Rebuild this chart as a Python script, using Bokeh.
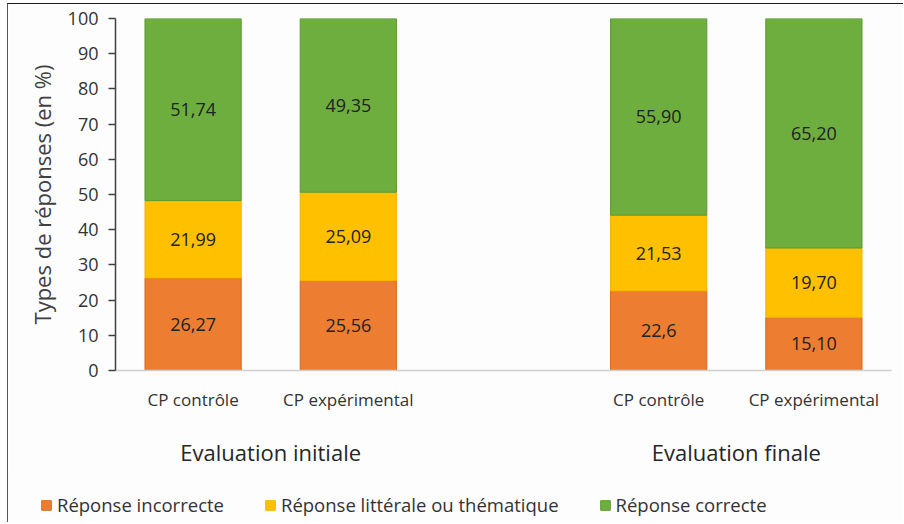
from bokeh.plotting import figure
from bokeh.layouts import column
from bokeh.models import FactorRange, ColumnDataSource, Range1d, Legend, LegendItem, CategoricalAxis
from bokeh.core.properties import value
from bokeh.embed import file_html
from bokeh.resources import INLINE
import numpy as np

groups = ["Evaluation initiale", "Evaluation finale"]
subgroups = ["CP contrôle", "CP expérimental"]
series = ["Réponse incorrecte", "Réponse littérale ou thématique", "Réponse correcte"]

incorrecte = [26.27, 25.56, 22.6, 15.10]
litterale = [21.99, 25.09, 21.53, 19.70]
correcte = [51.74, 49.35, 55.90, 65.20]

lab_incorrecte = ["26,27", "25,56", "22,6", "15,10"]
lab_litterale = ["21,99", "25,09", "21,53", "19,70"]
lab_correcte = ["51,74", "49,35", "55,90", "65,20"]

y_ticks = [0, 10, 20, 30, 40, 50, 60, 70, 80, 90, 100]

colors = ["#ED7D31", "#FFC000", "#6DAE3F"]
edge_colors = ["#D8691F", "#F0B400", "#5A9A30"]

FONT = "Open Sans"
BG = "#fdfdfd"

factors = [(g, s) for g in groups for s in subgroups]
keys = ["incorrecte", "litterale", "correcte"]
source = ColumnDataSource(dict(x=factors, incorrecte=incorrecte,
                               litterale=litterale, correcte=correcte))

x_range = FactorRange(*factors, factor_padding=0.0, group_padding=1.0, range_padding=0.0)

p = figure(width=895, height=466, x_range=x_range, y_range=Range1d(0, 100),
           output_backend="svg", toolbar_location=None,
           min_border_left=107, min_border_right=12, min_border_top=14, min_border_bottom=100)
p.background_fill_color = BG
p.border_fill_color = BG
p.outline_line_color = None
p.grid.visible = False

renderers = p.vbar_stack(keys, x="x", width=0.62, source=source,
                         fill_color=colors, line_color=edge_colors, line_width=1)

# segment labels
vals = np.array([incorrecte, litterale, correcte])
labels = [lab_incorrecte, lab_litterale, lab_correcte]
tops = np.cumsum(vals, axis=0)
mids = tops - vals / 2
for i in range(3):
    src = ColumnDataSource(dict(x=factors, y=list(mids[i]), t=labels[i]))
    p.text(x="x", y="y", text="t", source=src, text_align="center", text_baseline="middle",
           text_font=value(FONT), text_font_size="18px", text_color="#222222")

# y axis
yax = p.yaxis[0]
yax.ticker = y_ticks
yax.axis_label = "Types de réponses (en %)"
yax.axis_label_text_font = FONT
yax.axis_label_text_font_size = "22px"
yax.axis_label_text_font_style = "normal"
yax.axis_label_text_color = "#404040"
yax.axis_label_standoff = 8
yax.major_label_text_font = FONT
yax.major_label_text_font_size = "18px"
yax.major_label_text_color = "#333333"
yax.major_label_standoff = 10
yax.axis_line_color = "#404040"
yax.axis_line_width = 1.5
yax.major_tick_line_color = "#404040"
yax.major_tick_line_width = 1.5
yax.major_tick_out = 7
yax.major_tick_in = 0
yax.minor_tick_line_color = None

# x axis: subgroup labels
xax = p.xaxis[0]
xax.axis_line_color = "#d0d0d0"
xax.axis_line_width = 1.5
xax.major_tick_line_color = None
xax.minor_tick_line_color = None
xax.major_label_text_font = FONT
xax.major_label_text_font_size = "17px"
xax.major_label_text_color = "#333333"
xax.major_label_standoff = 11
xax.group_text_font_size = "0px"
xax.separator_line_color = None

# second x axis: group labels
gax = CategoricalAxis(axis_line_color=None, major_tick_line_color=None, minor_tick_line_color=None,
                      major_label_text_font_size="0px", major_label_standoff=17,
                      group_text_font=FONT, group_text_font_size="22px", group_text_color="#262626",
                      group_text_font_style="normal", separator_line_color=None)
p.add_layout(gax, "below")

# legend strip
p2 = figure(width=895, height=52, x_range=Range1d(0, 1), y_range=Range1d(0, 1),
            output_backend="svg", toolbar_location=None,
            min_border_left=0, min_border_right=0, min_border_top=0, min_border_bottom=0)
p2.frame_align = False
p2.background_fill_color = BG
p2.border_fill_color = BG
p2.outline_line_color = None
p2.grid.visible = False
p2.axis.visible = False
items = []
for i in range(3):
    # hidden placeholder renderer, used only for the legend swatch
    r = p2.vbar(x=[0], top=[0], width=0.1, fill_color=colors[i], line_color=edge_colors[i])
    r.visible = False
    items.append(LegendItem(label=series[i], renderers=[r]))
legend = Legend(items=items, location=(32, 5), orientation="horizontal",
                glyph_width=12, glyph_height=12, label_standoff=5, spacing=40,
                padding=0, margin=0, border_line_color=None, background_fill_alpha=0,
                inactive_fill_alpha=0,
                label_text_font=FONT, label_text_font_size="18.5px", label_text_color="#333333")
p2.add_layout(legend, "center")

layout = column(p, p2, spacing=0, margin=(3, 0, 0, 7),
                styles={"border-top": "1.5px solid #1a1a1a", "border-left": "1px solid #555555"})
open("out.html", "w").write(file_html(layout, INLINE))
